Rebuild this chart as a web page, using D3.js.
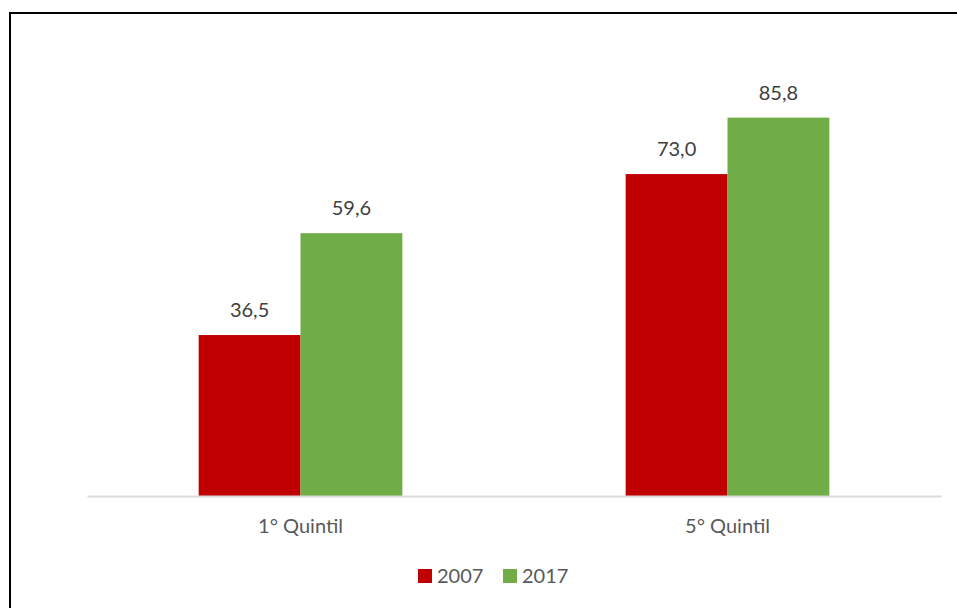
<!DOCTYPE html>
<html>
<head>
<meta charset="utf-8">
<script src="https://cdn.jsdelivr.net/npm/d3@7"></script>
<style>
  body { margin: 0; background: #fff; }
  svg { display: block; font-family: Lato, 'Open Sans', sans-serif; }
</style>
</head>
<body>
<div id="main-content"></div>
<script>
'use strict'

const categories = ['1° Quintil', '5° Quintil']
const years = ['2007', '2017']
const values2007 = [36.5, 73.0]
const values2017 = [59.6, 85.8]
const colors = ['#c00000', '#70ad47']

const width = 957,
		height = 608

const margin = { left: 87, right: 16, top: 55, bottom: 112 }

const svg = d3.select('#main-content').append('svg')
	.attr('width', width)
	.attr('height', height)

// outer frame (right and bottom edges fall outside the picture)
svg.append('rect')
	.attr('x', 10)
	.attr('y', 13)
	.attr('width', 960)
	.attr('height', 620)
	.attr('fill', 'none')
	.attr('stroke', '#000')
	.attr('stroke-width', 2)

const x = d3.scaleBand()
	.domain(categories)
	.range([margin.left, width - margin.right])
	.paddingInner(0.523)
	.paddingOuter(0.2615)

const xs = d3.scaleBand()
	.domain(years)
	.range([0, x.bandwidth()])

const y = d3.scaleLinear()
	.domain([0, 100])
	.range([height - margin.bottom, margin.top])

const rows = categories.map((c, i) => ({
	cat: c,
	vals: [values2007[i], values2017[i]]
}))

const group = svg.append('g')
	.selectAll('g')
	.data(rows)
	.enter().append('g')
		.attr('transform', d => `translate(${x(d.cat)},0)`)

group.selectAll('rect')
	.data(d => d.vals.map((v, j) => ({ year: years[j], v: v, j: j })))
	.enter().append('rect')
		.attr('x', d => xs(d.year))
		.attr('y', d => y(d.v))
		.attr('width', xs.bandwidth())
		.attr('height', d => y(0) - y(d.v))
		.attr('fill', d => colors[d.j])

group.selectAll('text')
	.data(d => d.vals.map((v, j) => ({ year: years[j], v: v })))
	.enter().append('text')
		.attr('x', d => xs(d.year) + xs.bandwidth() / 2)
		.attr('y', d => y(d.v) - 18)
		.attr('text-anchor', 'middle')
		.attr('font-size', 20)
		.attr('fill', '#404040')
		.text(d => d.v.toFixed(1).replace('.', ','))

// baseline + category labels
const xAxis = svg.append('g')
	.attr('transform', `translate(0,${y(0)})`)
	.call(d3.axisBottom(x).tickSize(0).tickPadding(23))

xAxis.select('.domain')
	.attr('stroke', '#d9d9d9')
	.attr('stroke-width', 2)
xAxis.selectAll('text')
	.attr('font-size', 20)
	.attr('font-family', "Lato, 'Open Sans', sans-serif")
	.attr('fill', '#595959')

// legend
const legend = svg.append('g')
	.attr('transform', 'translate(418,569)')

const item = legend.selectAll('g')
	.data(years)
	.enter().append('g')
		.attr('transform', (d, i) => `translate(${i * 85},0)`)

item.append('rect')
	.attr('width', 14)
	.attr('height', 14)
	.attr('fill', (d, i) => colors[i])

item.append('text')
	.attr('x', 19)
	.attr('y', 14)
	.attr('font-size', 20)
	.attr('fill', '#595959')
	.text(d => d)
</script>
</body>
</html>
